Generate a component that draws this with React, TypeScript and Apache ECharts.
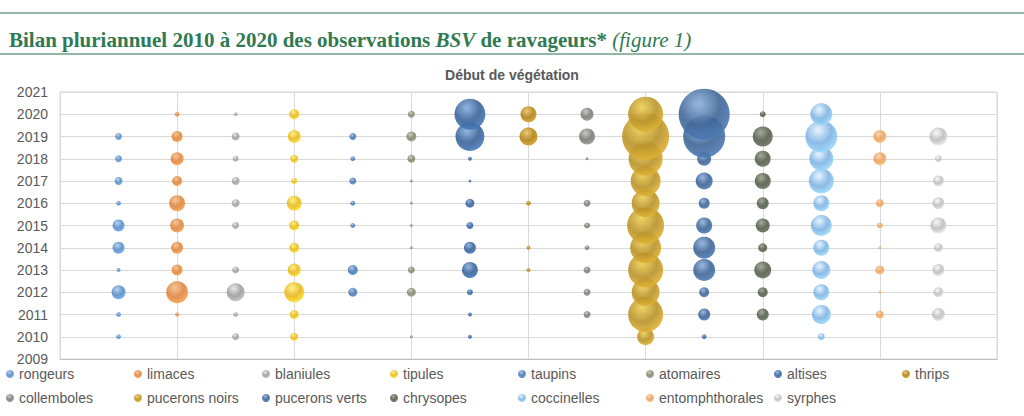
import React, { useEffect, useRef } from "react";
import * as echarts from "echarts";

const years = [2010, 2011, 2012, 2013, 2014, 2015, 2016, 2017, 2018, 2019, 2020];
const yTicks = [2009, 2010, 2011, 2012, 2013, 2014, 2015, 2016, 2017, 2018, 2019, 2020, 2021];

const seriesNames = [
  "rongeurs", "limaces", "blaniules", "tipules", "taupins", "atomaires", "altises", "thrips",
  "collemboles", "pucerons noirs", "pucerons verts", "chrysopes", "coccinelles", "entomphthorales", "syrphes",
];

// observation counts per year 2010..2020 (0 = none)
const rongeurs = [6, 6, 49, 4, 36, 36, 6, 16, 12, 12, 0];
const limaces = [0, 4, 121, 30, 36, 49, 64, 25, 42, 30, 6];
const blaniules = [12, 6, 81, 12, 0, 12, 16, 16, 9, 16, 4];
const tipules = [16, 20, 100, 42, 25, 25, 56, 9, 16, 42, 25];
const taupins = [0, 0, 20, 25, 0, 6, 6, 12, 6, 12, 0];
const atomaires = [2, 0, 20, 12, 2, 2, 2, 2, 16, 25, 12];
const altises = [4, 4, 9, 64, 36, 12, 20, 2, 4, 210, 240];
const thrips = [0, 0, 0, 4, 4, 0, 6, 0, 0, 81, 64];
const collemboles = [0, 12, 12, 12, 6, 9, 12, 0, 2, 64, 42];
const puceronsNoirs = [72, 306, 196, 306, 240, 342, 196, 225, 289, 552, 306];
const puceronsVerts = [6, 36, 25, 121, 121, 64, 30, 72, 49, 441, 650];
const chrysopes = [0, 36, 25, 72, 20, 49, 36, 64, 64, 100, 9];
const coccinelles = [12, 90, 64, 81, 64, 110, 64, 156, 144, 256, 121];
const entomphthorales = [0, 16, 2, 20, 2, 9, 16, 0, 42, 42, 0];
const syrphes = [0, 42, 25, 36, 20, 64, 36, 30, 12, 81, 0];

const allValues = [
  rongeurs, limaces, blaniules, tipules, taupins, atomaires, altises, thrips,
  collemboles, puceronsNoirs, puceronsVerts, chrysopes, coccinelles, entomphthorales, syrphes,
];

const baseColors = [
  "#5b8cc4", "#dd8540", "#9c9c9c", "#e8b820", "#4a77ad", "#7f8770", "#3a6399", "#b0821c",
  "#7a7a76", "#b8922a", "#3f6596", "#555e4c", "#7fb3e3", "#e8a060", "#bdbdbd",
];
const lightColors = [
  "#a9cdf0", "#f7c08a", "#e6e6e6", "#fff07a", "#9dc2ea", "#c8c8b0", "#86aede", "#eac463",
  "#c4c4be", "#ecd055", "#8db0da", "#9aa290", "#e4f2ff", "#fbd2a4", "#f7f7f7",
];

function sphere(i: number) {
  return {
    type: "radial",
    x: 0.4,
    y: 0.3,
    r: 0.75,
    colorStops: [
      { offset: 0, color: lightColors[i] },
      { offset: 0.55, color: baseColors[i] },
      { offset: 1, color: echarts.color.lift(baseColors[i], -0.25) },
    ],
  };
}

export default function App() {
  const ref = useRef<HTMLDivElement>(null);
  useEffect(() => {
    document.body.style.margin = "0";
    const chart = echarts.init(ref.current!, null, { renderer: "svg" });

    const series = seriesNames.map((name, i) => ({
      name,
      type: "scatter",
      data: allValues[i]
        .map((v, k) => [i + 1, years[k], v])
        .filter((d) => d[2] > 0),
      symbolSize: (d: number[]) => 2 * Math.sqrt(d[2]),
      itemStyle: { color: sphere(i), opacity: 0.9 },
      z: 2,
    }));

    const legends = seriesNames.map((name, i) => ({
      data: [{ name, icon: "circle", itemStyle: { color: sphere(i) } }],
      left: 6 + (i % 8) * 128,
      top: i < 8 ? 367 : 391,
      itemWidth: 8,
      itemHeight: 8,
      padding: 0,
      selectedMode: false,
      textStyle: { fontFamily: "Liberation Sans", fontSize: 14, color: "#595959" },
    }));

    const serif = "Liberation Serif";
    chart.setOption({
      animation: false,
      backgroundColor: "#ffffff",
      title: [
        {
          left: 4,
          top: 24,
          text: "{b|Bilan pluriannuel 2010 à 2020 des observations }{bi|BSV}{b| de ravageurs*}{i| (figure 1)}",
          textStyle: {
            rich: {
              b: { fontFamily: serif, fontWeight: "bold", fontSize: 21, color: "#2f7a52" },
              bi: { fontFamily: serif, fontWeight: "bold", fontStyle: "italic", fontSize: 21, color: "#2f7a52" },
              i: { fontFamily: serif, fontWeight: "normal", fontStyle: "italic", fontSize: 21, color: "#2f7a52" },
            },
          },
        },
        {
          left: "center",
          top: 63,
          text: "Début de végétation",
          textStyle: { fontFamily: "Liberation Sans", fontWeight: "bold", fontSize: 14, color: "#595959" },
        },
      ],
      graphic: [
        { type: "line", shape: { x1: 0, y1: 13, x2: 1024, y2: 13 }, style: { stroke: "#6f9f86", lineWidth: 1.5 } },
        { type: "line", shape: { x1: 0, y1: 54, x2: 1024, y2: 54 }, style: { stroke: "#6f9f86", lineWidth: 1.5 } },
      ],
      legend: legends,
      grid: { left: 60, right: 27, top: 92, bottom: 57, show: true, borderColor: "#d9d9d9", borderWidth: 1 },
      xAxis: {
        type: "value",
        min: 0,
        max: 16,
        interval: 2,
        axisLabel: { show: false },
        axisTick: { show: false },
        axisLine: { show: true, lineStyle: { color: "#bfbfbf" } },
        splitLine: { show: true, lineStyle: { color: "#d9d9d9" } },
      },
      yAxis: {
        type: "value",
        min: yTicks[0],
        max: yTicks[yTicks.length - 1],
        interval: 1,
        axisLabel: {
          fontFamily: "Liberation Sans",
          fontSize: 14,
          color: "#595959",
          margin: 12,
          formatter: (v: number) => String(v),
        },
        axisTick: { show: false },
        axisLine: { show: true, lineStyle: { color: "#d9d9d9" } },
        splitLine: { show: true, lineStyle: { color: "#d9d9d9" } },
      },
      series,
    });
    return () => chart.dispose();
  }, []);
  return <div ref={ref} style={{ width: 1024, height: 416 }} />;
}
